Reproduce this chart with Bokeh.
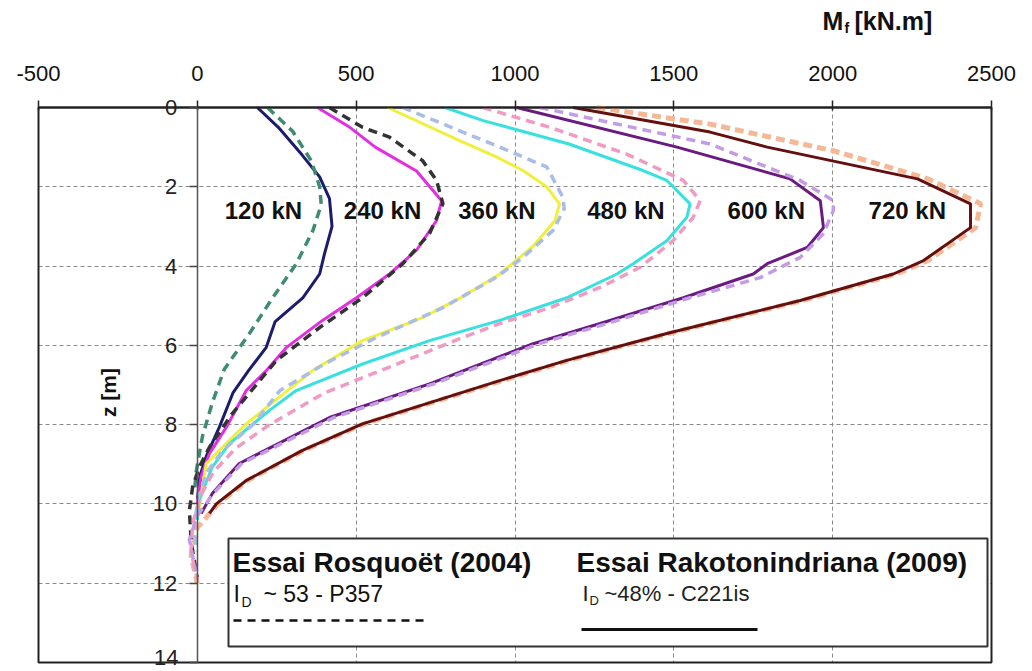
import math
from bokeh.plotting import figure
from bokeh.models import Range1d, SingleIntervalTicker, Label, CustomJSTickFormatter
from bokeh.core.properties import value
from bokeh.embed import file_html
from bokeh.resources import INLINE

# ---------------- data (z in m, M_f in kN.m) ----------------
LOADS = ["120 kN", "240 kN", "360 kN", "480 kN", "600 kN", "720 kN"]

# Rakotonindriana (2009) - solid
Z_120_R = [0, 0.5, 1.2, 1.75, 2.3, 3.0, 3.7, 4.2, 4.8, 5.4, 6.05, 6.65, 7.2, 8.05, 8.8, 9.3, 9.9]
M_120_R = [189, 255, 330, 385, 416, 424, 400, 385, 332, 245, 217, 160, 112, 70, 28, 8, 0]
Z_240_R = [0, 0.5, 1.0, 1.6, 2.35, 2.85, 3.6, 4.2, 4.8, 5.37, 6.05, 6.63, 7.14, 8.07, 8.73, 9.3, 10.0]
M_240_R = [378, 480, 560, 690, 769, 753, 690, 605, 501, 394, 281, 218, 154, 91, 38, 12, 0]
Z_360_R = [0, 0.8, 1.24, 1.59, 2.0, 2.43, 2.85, 3.5, 4.2, 4.75, 5.3, 5.88, 6.63, 7.3, 7.98, 8.65, 8.98, 9.58, 10.2]
M_360_R = [599, 815, 940, 1025, 1100, 1140, 1126, 1057, 952, 840, 709, 520, 364, 259, 154, 69, 28, 16, 5]
Z_480_R = [0, 0.33, 0.92, 1.59, 1.84, 2.43, 2.77, 3.36, 3.94, 4.2, 4.8, 5.37, 5.88, 6.47, 7.14, 7.64, 8.48, 9.07, 9.9, 10.4]
M_480_R = [779, 900, 1170, 1403, 1478, 1551, 1541, 1478, 1372, 1321, 1163, 952, 731, 520, 311, 227, 101, 47, 6, 0]
Z_600_R = [0, 1.0, 1.8, 2.35, 3.03, 3.53, 3.94, 4.2, 4.8, 5.45, 5.96, 6.97, 7.82, 8.98, 9.74, 10.24]
M_600_R = [1005, 1510, 1866, 1961, 1971, 1920, 1794, 1750, 1530, 1268, 1057, 731, 416, 132, 47, 12]
Z_720_R = [0, 0.62, 1.0, 1.8, 2.43, 3.03, 3.86, 4.2, 4.87, 5.7, 6.38, 6.89, 7.98, 8.65, 9.41, 10.0, 10.24]
M_720_R = [1183, 1614, 1794, 2267, 2434, 2434, 2286, 2191, 1898, 1478, 1163, 952, 520, 331, 154, 60, 38]

# Rosquoet (2004) - dashed
Z_120_P = [0, 0.6, 1.35, 2.0, 2.45, 3.1, 3.95, 4.8, 5.7, 6.6, 7.45, 8.3, 9.15, 9.6]
M_120_P = [221, 300, 359, 385, 390, 364, 311, 237, 164, 85, 47, 16, -3, -8]
Z_240_P = [0, 0.5, 0.75, 1.34, 1.84, 2.43, 3.18, 3.94, 4.8, 5.55, 6.38, 7.3, 7.72, 8.57, 9.07, 9.58, 10.17, 11.0, 11.85]
M_240_P = [416, 520, 605, 709, 753, 773, 731, 647, 520, 385, 249, 154, 110, 38, 6, -15, -25, -19, 0]
Z_360_P = [0, 1.0, 1.5, 2.27, 2.55, 3.1, 3.78, 4.29, 5.05, 5.8, 6.47, 7.14, 8.0, 8.65, 9.2, 9.8, 10.5, 11.2]
M_360_P = [646, 952, 1100, 1151, 1155, 1120, 1025, 940, 773, 564, 400, 260, 175, 80, 30, 5, -10, -5]
Z_480_P = [0, 0.5, 1.17, 1.84, 2.35, 2.77, 3.36, 4.03, 4.54, 5.05, 5.45, 5.8, 6.5, 7.2, 8.0, 8.6, 9.2, 9.8, 10.5, 11.2, 11.9]
M_480_P = [899, 1110, 1350, 1530, 1583, 1561, 1498, 1394, 1268, 1110, 952, 836, 620, 400, 227, 120, 50, 10, -15, -20, 0]
Z_600_P = [0, 0.92, 1.84, 2.35, 2.6, 3.18, 3.78, 4.29, 4.8, 5.45, 5.96, 6.97, 7.82, 8.98, 9.74, 10.3, 10.9, 11.7]
M_600_P = [1078, 1614, 1898, 2002, 2002, 1971, 1898, 1772, 1550, 1290, 1075, 745, 430, 140, 50, 0, -25, -5]
Z_720_P = [0, 0.42, 1.09, 1.8, 2.43, 3.03, 3.86, 4.2, 4.87, 5.7, 6.38, 6.89, 7.98, 8.65, 9.41, 10.0, 10.6, 11.3, 12.0]
M_720_P = [1257, 1614, 2002, 2300, 2466, 2450, 2300, 2200, 1905, 1485, 1170, 960, 525, 335, 158, 65, 0, -20, 0]

SOLID_COLORS = ["#1c1c6e", "#e22fe2", "#f0f03c", "#38e0e0", "#6a1a80", "#641010"]
DASH_COLORS = ["#3f8c70", "#333333", "#a9bde6", "#f19ac2", "#c49ce6", "#f5b896"]

SOLID = [(Z_120_R, M_120_R), (Z_240_R, M_240_R), (Z_360_R, M_360_R),
         (Z_480_R, M_480_R), (Z_600_R, M_600_R), (Z_720_R, M_720_R)]
DASHED = [(Z_120_P, M_120_P), (Z_240_P, M_240_P), (Z_360_P, M_360_P),
          (Z_480_P, M_480_P), (Z_600_P, M_600_P), (Z_720_P, M_720_P)]

LABEL_M = [208, 583, 943, 1349, 1791, 2235]
LABEL_Z = 2.6

X_MIN, X_MAX = -500, 2500
Z_MIN, Z_MAX = 0, 14
X_TICK_STEP = 500
Z_TICK_STEP = 2

# ---------------- layout (reference pixel geometry of the axes box) ----------------
W, H = 1032, 671
BOX_PX = (38, 991)   # x pixel of -500 and 2500
BOX_PY = (107, 662)  # y pixel of z=0 and z=14
KX = (X_MAX - X_MIN) / float(BOX_PX[1] - BOX_PX[0])
KZ = (Z_MAX - Z_MIN) / float(BOX_PY[1] - BOX_PY[0])


def dx(px):
    return X_MIN + (px - BOX_PX[0]) * KX


def dz(py):
    return Z_MIN + (py - BOX_PY[0]) * KZ


FONT = "Liberation Sans"

p = figure(width=W, height=H, output_backend="svg", toolbar_location=None,
           x_range=Range1d(dx(0), dx(W)), y_range=Range1d(dz(H), dz(0)),
           x_axis_location="above",
           min_border_left=0, min_border_right=0, min_border_top=0, min_border_bottom=0)
p.background_fill_color = "white"
p.border_fill_color = "white"
p.outline_line_color = None

xt = SingleIntervalTicker(interval=X_TICK_STEP, num_minor_ticks=0)
yt = SingleIntervalTicker(interval=Z_TICK_STEP, num_minor_ticks=0)

ax = p.xaxis[0]
ax.ticker = xt
ax.fixed_location = Z_MIN
ax.bounds = (X_MIN, X_MAX)
ax.formatter = CustomJSTickFormatter(code="return tick.toFixed(0);")
ax.axis_line_color = "#222222"
ax.axis_line_width = 2
ax.major_tick_line_color = "#222222"
ax.major_tick_line_width = 1.5
ax.major_tick_out = 7
ax.major_tick_in = 3
ax.minor_tick_line_color = None
ax.major_label_standoff = 20
ax.major_label_text_font = FONT
ax.major_label_text_font_size = "22px"
ax.major_label_text_color = "#111111"

ay = p.yaxis[0]
ay.ticker = yt
ay.fixed_location = 0
ay.bounds = (Z_MIN, Z_MAX)
# the last label (at the very bottom edge) is drawn separately, slightly raised
ay.formatter = CustomJSTickFormatter(code="return tick >= %d ? '' : tick.toFixed(0);" % Z_MAX)
ay.axis_line_color = "#555555"
ay.axis_line_width = 1.5
ay.major_tick_line_color = "#444444"
ay.major_tick_line_width = 1.5
ay.major_tick_out = 8
ay.major_tick_in = 0
ay.minor_tick_line_color = None
ay.major_label_standoff = 12
ay.major_label_text_font = FONT
ay.major_label_text_font_size = "22px"
ay.major_label_text_color = "#222222"

xg, yg = p.xgrid[0], p.ygrid[0]
xg.ticker = xt
yg.ticker = yt
xg.bounds = (X_MIN, X_MAX)
yg.bounds = (Z_MIN, Z_MAX)
has_cross = "cross_bounds" in xg.properties()
if has_cross:
    xg.cross_bounds = (Z_MIN, Z_MAX)
    yg.cross_bounds = (X_MIN, X_MAX)
for g in (xg, yg):
    g.grid_line_color = "#8a8a8a"
    g.grid_line_dash = "4 3"
    g.grid_line_width = 1

if not has_cross:
    p.quad(left=[dx(0), dx(0), dx(0), X_MAX], right=[X_MIN, dx(W), dx(W), dx(W)],
           top=[dz(0), dz(0), Z_MAX, dz(0)], bottom=[dz(H), Z_MIN, dz(H), dz(H)],
           fill_color="white", line_color=None)

# axes box
p.quad(left=[X_MIN], right=[X_MAX], top=[Z_MIN], bottom=[Z_MAX],
       fill_color=None, line_color="#222222", line_width=2)

# ---------------- curves ----------------
for (z, m), c in zip(DASHED[5:], DASH_COLORS[5:]):
    p.line(m, z, line_color=c, line_width=5, line_dash="9 5")
for (z, m), c in zip(SOLID, SOLID_COLORS):
    p.line(m, z, line_color=c, line_width=3)
for (z, m), c in zip(DASHED[:5], DASH_COLORS[:5]):
    p.line(m, z, line_color=c, line_width=3.5, line_dash="9 6")

p.text(x=LABEL_M, y=[LABEL_Z] * len(LABEL_M), text=LOADS,
       text_font=value(FONT), text_font_style="bold", text_font_size="24px",
       text_color="#111111", text_align="center", text_baseline="middle")

# ---------------- legend box ----------------
p.quad(left=[dx(228)], right=[dx(987)], top=[dz(538)], bottom=[dz(646)],
       fill_color="white", line_color="#333333", line_width=2)
p.line([dx(233), dx(423)], [dz(620), dz(620)], line_color="#111111", line_width=2.5, line_dash="8 6")
p.line([dx(581), dx(757)], [dz(629), dz(629)], line_color="#111111", line_width=3)


def lab(txt, px, py, size, bold=False, angle=0.0, align="left", color="#111111"):
    p.add_layout(Label(x=dx(px), y=dz(py), text=txt, text_font=FONT,
                       text_font_size=size, text_font_style="bold" if bold else "normal",
                       text_color=color, text_align=align, text_baseline="middle",
                       angle=angle))


lab("Essai Rosquoët (2004)", 232, 562, "28px", bold=True)
lab("I", 233, 593, "23px")
lab("D", 241, 601, "14px")
lab("~  53 - P357", 263, 593, "23px")

lab("Essai Rakotonindriana (2009)", 576, 562, "28px", bold=True)
lab("I", 582, 593, "22px", color="#222222")
lab("D", 589, 600, "13px", color="#222222")
lab("~48% - C221is", 604, 593, "22px", color="#222222")

# bottom tick label of the z axis (raised so it stays inside the page)
lab(str(Z_MAX), 178, 657, "22px", align="right", color="#222222")

# axis titles
lab("M", 822, 20, "25px", bold=True)
lab("f", 844, 27, "14px", bold=True)
lab("[kN.m]", 854, 20, "25px", bold=True)
lab("z [m]", 108, 392, "21px", bold=True, angle=math.pi / 2, align="center")

open("out.html", "w").write(file_html(p, INLINE))
